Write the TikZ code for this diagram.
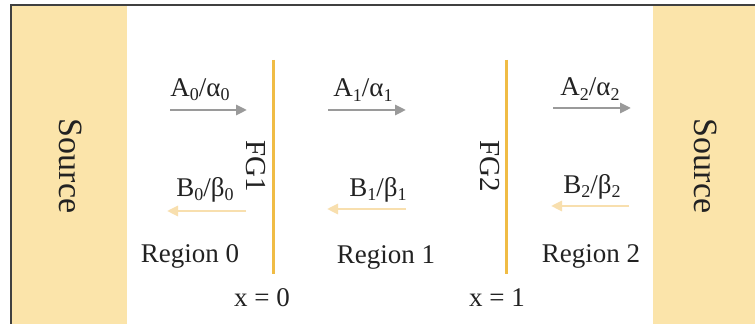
\documentclass[tikz,border=0pt]{standalone}
\usepackage{fontspec}
\setmainfont{Liberation Serif}
\usetikzlibrary{arrows.meta}
\definecolor{srcfill}{HTML}{FBE4AA}
\definecolor{fgline}{HTML}{F0BC45}
\definecolor{agray}{HTML}{9A9A9A}
\definecolor{borange}{HTML}{F8DFAE}
\definecolor{txtcol}{HTML}{222222}
\newcommand{\lsub}[1]{\raisebox{-0.35ex}{\fontsize{9}{10}\selectfont #1}}
\begin{document}
\begin{tikzpicture}[x=0.5pt,y=-0.5pt,
  txt/.style={font=\fontsize{13.5}{15}\selectfont, inner sep=0pt, text=txtcol},
  bigtxt/.style={font=\fontsize{17}{19}\selectfont, inner sep=0pt, text=txtcol},
  fgbar/.style={draw=fgline, line width=1.5pt},
  fwd/.style={draw=agray, line width=1.4pt, -{Triangle[length=5.5pt,width=5pt]}},
  bwd/.style={draw=borange, line width=1.4pt, -{Triangle[length=5.5pt,width=5pt]}}]
\useasboundingbox (0,0) rectangle (755,324);
\fill[white] (0,0) rectangle (755,324);
% sources
\fill[srcfill] (12,6) rectangle (127,324);
\fill[srcfill] (653,6) rectangle (755,324);
\node[bigtxt, rotate=-90] (srcL) at (71,166) {Source};
\node[bigtxt, rotate=-90] (srcR) at (706,166) {Source};
% frame
\draw[draw=black!75, line width=1pt] (11,324) -- (11,5.5) -- (755,5.5);
% frequency gates
\coordinate (fg1t) at (273,60); \coordinate (fg1b) at (273,274);
\coordinate (fg2t) at (506,60); \coordinate (fg2b) at (506,274);
\draw[fgbar] (fg1t) -- (fg1b);
\draw[fgbar] (fg2t) -- (fg2b);
\node[txt, font=\fontsize{14.5}{16}\selectfont, rotate=-90] (fg1) at (256,166) {FG1};
\node[txt, font=\fontsize{14.5}{16}\selectfont, rotate=-90] (fg2) at (490,166) {FG2};
% forward arrows
\coordinate (a0s) at (170,110); \coordinate (a0e) at (247,110);
\coordinate (a1s) at (328,110); \coordinate (a1e) at (406,110);
\coordinate (a2s) at (553,108); \coordinate (a2e) at (631,108);
\draw[fwd] (a0s) -- (a0e);
\draw[fwd] (a1s) -- (a1e);
\draw[fwd] (a2s) -- (a2e);
\node[txt] (la0) at (200,90) {A\lsub{0}/α\lsub{0}};
\node[txt] (la1) at (363,90) {A\lsub{1}/α\lsub{1}};
\node[txt] (la2) at (590,89) {A\lsub{2}/α\lsub{2}};
% backward arrows
\coordinate (b0s) at (246,211); \coordinate (b0e) at (167,211);
\coordinate (b1s) at (406,209); \coordinate (b1e) at (327,209);
\coordinate (b2s) at (629,206); \coordinate (b2e) at (551,206);
\draw[bwd] (b0s) -- (b0e);
\draw[bwd] (b1s) -- (b1e);
\draw[bwd] (b2s) -- (b2e);
\node[txt] (lb0) at (205,190) {B\lsub{0}/β\lsub{0}};
\node[txt] (lb1) at (378,190) {B\lsub{1}/β\lsub{1}};
\node[txt] (lb2) at (592,187) {B\lsub{2}/β\lsub{2}};
% region labels
\node[txt] (r0) at (190,256) {Region 0};
\node[txt] (r1) at (386,257) {Region 1};
\node[txt] (r2) at (591,256) {Region 2};
% x labels
\node[txt] (x0) at (262,298) {x = 0};
\node[txt] (x1) at (497,298) {x = 1};
\end{tikzpicture}
\end{document}
